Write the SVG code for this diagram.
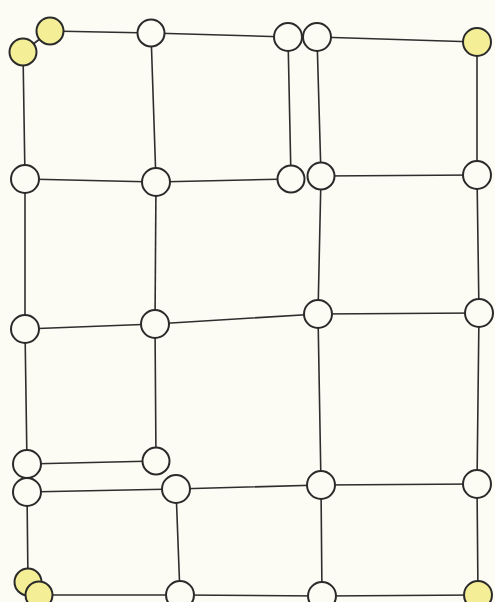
<svg xmlns="http://www.w3.org/2000/svg" width="495" height="602" viewBox="0 0 495 602">
<style>
.bg{fill:#fcfcf4}
.e line{stroke:#2e2e2e;stroke-width:1.6;stroke-linecap:round}
.n circle{fill:#fcfcf4;stroke:#2a2a2a;stroke-width:2}
.y circle{fill:#f4ef96}
</style>
<rect class="bg" width="495" height="602"/>
<g id="connectors" class="e">
<line x1="23" y1="52" x2="50" y2="31"/>
<line x1="50" y1="31" x2="151" y2="33"/>
<line x1="151" y1="33" x2="288" y2="37"/>
<line x1="317" y1="37" x2="477" y2="42"/>
<line x1="23" y1="52" x2="25" y2="179"/>
<line x1="151" y1="33" x2="156" y2="182"/>
<line x1="288" y1="37" x2="291" y2="179"/>
<line x1="317" y1="37" x2="321" y2="176"/>
<line x1="477" y1="42" x2="477" y2="175"/>
<line x1="25" y1="179" x2="156" y2="182"/>
<line x1="156" y1="182" x2="291" y2="179"/>
<line x1="321" y1="176" x2="477" y2="175"/>
<line x1="25" y1="179" x2="25" y2="329"/>
<line x1="156" y1="182" x2="155" y2="324"/>
<line x1="321" y1="176" x2="318" y2="314"/>
<line x1="477" y1="175" x2="479" y2="313"/>
<line x1="25" y1="329" x2="155" y2="324"/>
<line x1="155" y1="324" x2="318" y2="314"/>
<line x1="318" y1="314" x2="479" y2="313"/>
<line x1="25" y1="329" x2="27" y2="464"/>
<line x1="155" y1="324" x2="156" y2="461"/>
<line x1="318" y1="314" x2="321" y2="485"/>
<line x1="479" y1="313" x2="477" y2="484"/>
<line x1="27" y1="464" x2="156" y2="461"/>
<line x1="27" y1="492" x2="176" y2="489"/>
<line x1="176" y1="489" x2="321" y2="485"/>
<line x1="321" y1="485" x2="477" y2="484"/>
<line x1="27" y1="492" x2="28" y2="582"/>
<line x1="176" y1="489" x2="180" y2="595"/>
<line x1="321" y1="485" x2="322" y2="596"/>
<line x1="477" y1="484" x2="478" y2="595"/>
<line x1="28" y1="582" x2="39" y2="595"/>
<line x1="39" y1="595" x2="180" y2="595"/>
<line x1="180" y1="595" x2="322" y2="596"/>
<line x1="322" y1="596" x2="478" y2="595"/>
</g>
<g id="n1" class="n y"><circle cx="23" cy="52" r="13.5"/></g>
<g id="n2" class="n y"><circle cx="50" cy="31" r="13.5"/></g>
<g id="n3" class="n"><circle cx="151" cy="33" r="13.5"/></g>
<g id="n4" class="n"><circle cx="288" cy="37" r="14"/></g>
<g id="n5" class="n"><circle cx="317" cy="37" r="14"/></g>
<g id="n6" class="n y"><circle cx="477" cy="42" r="14"/></g>
<g id="n7" class="n"><circle cx="25" cy="179" r="14"/></g>
<g id="n8" class="n"><circle cx="156" cy="182" r="14"/></g>
<g id="n9" class="n"><circle cx="291" cy="179" r="13.5"/></g>
<g id="n10" class="n"><circle cx="321" cy="176" r="13.5"/></g>
<g id="n11" class="n"><circle cx="477" cy="175" r="14"/></g>
<g id="n12" class="n"><circle cx="25" cy="329" r="14"/></g>
<g id="n13" class="n"><circle cx="155" cy="324" r="14"/></g>
<g id="n14" class="n"><circle cx="318" cy="314" r="14"/></g>
<g id="n15" class="n"><circle cx="479" cy="313" r="14"/></g>
<g id="n16" class="n"><circle cx="27" cy="464" r="14"/></g>
<g id="n17" class="n"><circle cx="156" cy="461" r="13.5"/></g>
<g id="n18" class="n"><circle cx="27" cy="492" r="14"/></g>
<g id="n19" class="n"><circle cx="176" cy="489" r="14"/></g>
<g id="n20" class="n"><circle cx="321" cy="485" r="14"/></g>
<g id="n21" class="n"><circle cx="477" cy="484" r="14"/></g>
<g id="n22" class="n y"><circle cx="28" cy="582" r="13.5"/></g>
<g id="n23" class="n y"><circle cx="39" cy="595" r="13.5"/></g>
<g id="n24" class="n"><circle cx="180" cy="595" r="14"/></g>
<g id="n25" class="n"><circle cx="322" cy="596" r="14"/></g>
<g id="n26" class="n y"><circle cx="478" cy="595" r="14"/></g>
</svg>
